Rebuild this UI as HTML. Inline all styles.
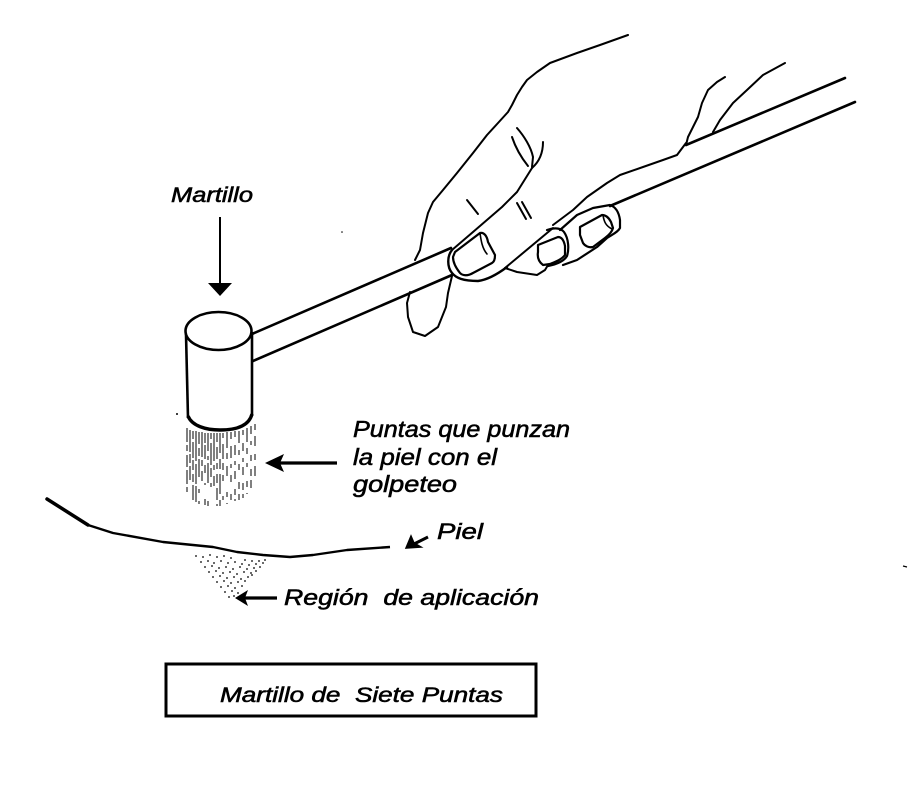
<!DOCTYPE html>
<html>
<head>
<meta charset="utf-8">
<style>
  html,body{margin:0;padding:0;background:#fff;}
  svg{display:block;}
  text{font-family:"Liberation Sans", Arial, sans-serif;font-style:italic;fill:#000;stroke:#000;stroke-width:0.55px;white-space:pre;}
</style>
</head>
<body>
<svg width="912" height="794" viewBox="0 0 912 794" xmlns="http://www.w3.org/2000/svg" xml:space="preserve">
  <rect width="912" height="794" fill="#fff"/>

  <!-- ===== Hand ===== -->
  <g fill="none" stroke="#000" stroke-width="2" stroke-linejoin="round" stroke-linecap="round">
    <path d="M628,35 L600,45 L577,53 L550,63 L537,72 L527,80 L522,87 L517,95 L512,105 L508,112 L498,123 L487,135 L473,153 L457,173 L443,190 L433,202 L428,213 L423,233 L420,250 L415,260"/>
    <path d="M452,276 L448,293 L446,307 L438,327 L425,336 L413,332 L408,317 L407,303 L410,292"/>
    <path d="M452,250 L473,232 L502,207 L517,192 L532,168"/>
    <path d="M517,128 C524,136 531,147 533,157 L532,167"/>
    <path d="M512,137 C515,146 520,156 528,166"/>
    <path d="M543,142 C543,152 540,161 532,168"/>
    <path d="M467,200 L478,214"/>
    <path d="M517,203 L526,219"/>
    <path d="M522,202 L531,218"/>
    <path d="M452,250 C447,256 447,267 452,273 C456,278 463,281 478,281 C486,280 495,276 507,267" stroke-width="2.4"/>
    <path d="M455,252 L480,233 C484,232 487,236 488,242 L495,255 C495,259 494,262 492,263 L473,273 C468,276 463,276 460,273 C456,268 453,262 453,257 Z" stroke-width="2.2"/>
    <path d="M480,233 C481,240 482,248 487,254" stroke-width="1.6"/>
    <path d="M505,268 L553,228"/>
    <path d="M505,268 L517,272 L537,275 L545,270 L548,265"/>
    <path d="M547,230 C553,228 560,227 564,232 C569,239 569,250 567,256 C564,261 558,264 548,266" stroke-width="2.2"/>
    <path d="M538,245 L558,237 C562,237 564,241 565,246 L565,255 C561,260 555,262 550,264 L543,265 C539,262 537,258 538,252 Z" stroke-width="2.2"/>
    <path d="M560,230 L577,215 L593,208 L610,205 C616,207 619,213 620,220 L620,228 C618,232 613,234 607,238 L597,247 L577,260 L563,265" stroke-width="2.2"/>
    <path d="M580,227 L602,215 C606,215 609,218 611,222 L613,228 C612,232 609,235 605,238 L593,247 C589,248 585,246 583,243 L580,235 Z" stroke-width="2.2"/>
    <path d="M603,215 C604,222 606,226 612,229" stroke-width="1.6"/>
    <path d="M553,225 L573,210 L587,197 L607,183 L620,175 L643,167 L663,160 L677,155 L683,147 L686,143"/>
    <path d="M686,145 L688,137 L693,127 L698,117 L702,103 L708,90 L717,82 L725,77"/>
    <path d="M713,132 L720,120 L733,103 L747,90 L763,75 L785,63"/>
  </g>

  <!-- ===== Handle ===== -->
  <g fill="none" stroke="#000" stroke-width="2.6" stroke-linecap="round">
    <line x1="252" y1="334" x2="451" y2="248"/>
    <line x1="253" y1="361" x2="452" y2="275"/>
    <line x1="686" y1="145" x2="845" y2="78"/>
    <line x1="610" y1="206" x2="855" y2="102"/>
  </g>

  <!-- ===== Hammer head ===== -->
  <g fill="none" stroke="#000" stroke-width="2.6">
    <rect x="186" y="332" width="66" height="86" fill="#fff" stroke="none"/>
    <path d="M186,334 L188,418" />
    <path d="M252,332 L252,416" />
    <path d="M188,416 C192,426 206,430 220,430 C236,430 249,426 252,414" stroke-width="3.4"/>
    <ellipse cx="218.5" cy="331" rx="33" ry="19" fill="#fff"/>
  </g>

  <!-- bristles -->
  <g stroke="#000" stroke-width="1" fill="none">
    <line x1="187" y1="428" x2="187" y2="492" stroke-dasharray="14 3 6 4 12 3"/>
    <line x1="190" y1="430" x2="190" y2="497" stroke-dasharray="22 2 9 3 14"/>
    <line x1="193" y1="431" x2="193" y2="500" stroke-dasharray="8 3 16 2 10 4"/>
    <line x1="196" y1="431" x2="196" y2="502" stroke-dasharray="30 3 20 2"/>
    <line x1="199" y1="432" x2="199" y2="504" stroke-dasharray="12 4 8 3 18"/>
    <line x1="202" y1="432" x2="202" y2="505" stroke-dasharray="25 3 6 5 10"/>
    <line x1="205" y1="433" x2="205" y2="506" stroke-dasharray="10 2 14 6 8"/>
    <line x1="208" y1="433" x2="208" y2="507" stroke-dasharray="18 5 4 3 20"/>
    <line x1="211" y1="433" x2="211" y2="507" stroke-dasharray="6 4 22 3 9"/>
    <line x1="214" y1="433" x2="214" y2="507" stroke-dasharray="28 4 5 6 10"/>
    <line x1="217" y1="433" x2="217" y2="506" stroke-dasharray="9 5 12 4 6 5"/>
    <line x1="220" y1="433" x2="220" y2="506" stroke-dasharray="20 6 10 5"/>
    <line x1="223" y1="433" x2="223" y2="505" stroke-dasharray="5 6 15 4 7"/>
    <line x1="227" y1="432" x2="227" y2="504" stroke-dasharray="16 5 6 7 10"/>
    <line x1="231" y1="432" x2="231" y2="502" stroke-dasharray="7 7 12 6 4"/>
    <line x1="235" y1="431" x2="235" y2="501" stroke-dasharray="6 8 10 6 4"/>
    <line x1="239" y1="431" x2="239" y2="500" stroke-dasharray="12 7 5 9 6"/>
    <line x1="243" y1="430" x2="243" y2="498" stroke-dasharray="5 8 8 7 4"/>
    <line x1="247" y1="428" x2="247" y2="494" stroke-dasharray="14 6 6 9 4"/>
    <line x1="251" y1="426" x2="251" y2="488" stroke-dasharray="8 7 4 10 6"/>
    <line x1="255" y1="424" x2="255" y2="480" stroke-dasharray="6 6 10 8"/>
  </g>

  <!-- ===== Arrows ===== -->
  <line x1="220" y1="217" x2="220" y2="288" stroke="#000" stroke-width="2"/>
  <polygon points="208,283 232,283 220,296" fill="#000"/>
  <line x1="278" y1="463" x2="337" y2="463" stroke="#000" stroke-width="3.2"/>
  <polygon points="265,463 284,454 280,463 284,472" fill="#000"/>
  <line x1="428" y1="537" x2="410" y2="546" stroke="#000" stroke-width="3"/>
  <polygon points="406,548 411,536 414,543 421,547" fill="#000" stroke="#000" stroke-width="1.5"/>
  <line x1="244" y1="598" x2="277" y2="598" stroke="#000" stroke-width="3.2"/>
  <polygon points="235,598 248,590 245,598 248,606" fill="#000"/>

  <!-- ===== Skin ===== -->
  <path d="M47,499 L88,525 L113,533 L163,542 L213,547 L237,552 L263,555 L290,557 L313,555 L347,550 L390,547" fill="none" stroke="#000" stroke-width="2.4" stroke-linejoin="round"/>
  <path d="M47,499 L88,525" stroke="#000" stroke-width="3.5" stroke-linecap="round"/>

  <!-- stipple -->
  <g fill="#000">
    <circle cx="196" cy="556" r="0.9"/><circle cx="203" cy="557" r="0.9"/><circle cx="210" cy="555" r="0.9"/><circle cx="217" cy="557" r="0.9"/><circle cx="224" cy="556" r="0.9"/><circle cx="231" cy="558" r="0.9"/><circle cx="245" cy="560" r="0.9"/><circle cx="252" cy="561" r="0.9"/><circle cx="259" cy="561" r="0.9"/><circle cx="265" cy="560" r="0.9"/>
    <circle cx="201" cy="562" r="0.9"/><circle cx="208" cy="561" r="0.9"/><circle cx="214" cy="563" r="0.9"/><circle cx="221" cy="561" r="0.9"/><circle cx="228" cy="563" r="0.9"/><circle cx="235" cy="562" r="0.9"/><circle cx="242" cy="564" r="0.9"/><circle cx="249" cy="565" r="0.9"/><circle cx="256" cy="564" r="0.9"/><circle cx="263" cy="563" r="0.9"/>
    <circle cx="205" cy="567" r="0.9"/><circle cx="212" cy="566" r="0.9"/><circle cx="219" cy="568" r="0.9"/><circle cx="226" cy="567" r="0.9"/><circle cx="233" cy="569" r="0.9"/><circle cx="240" cy="567" r="0.9"/><circle cx="247" cy="569" r="0.9"/><circle cx="254" cy="568" r="0.9"/><circle cx="260" cy="567" r="0.9"/>
    <circle cx="209" cy="572" r="0.9"/><circle cx="216" cy="571" r="0.9"/><circle cx="223" cy="573" r="0.9"/><circle cx="230" cy="572" r="0.9"/><circle cx="237" cy="574" r="0.9"/><circle cx="244" cy="572" r="0.9"/><circle cx="251" cy="573" r="0.9"/><circle cx="256" cy="571" r="0.9"/>
    <circle cx="213" cy="577" r="0.9"/><circle cx="220" cy="576" r="0.9"/><circle cx="227" cy="578" r="0.9"/><circle cx="234" cy="577" r="0.9"/><circle cx="241" cy="579" r="0.9"/><circle cx="248" cy="577" r="0.9"/><circle cx="252" cy="575" r="0.9"/>
    <circle cx="217" cy="582" r="0.9"/><circle cx="224" cy="581" r="0.9"/><circle cx="231" cy="583" r="0.9"/><circle cx="238" cy="582" r="0.9"/><circle cx="245" cy="581" r="0.9"/>
    <circle cx="221" cy="587" r="0.9"/><circle cx="228" cy="586" r="0.9"/><circle cx="235" cy="588" r="0.9"/><circle cx="242" cy="586" r="0.9"/>
    <circle cx="225" cy="592" r="0.9"/><circle cx="232" cy="591" r="0.9"/><circle cx="238" cy="593" r="0.9"/>
    <circle cx="229" cy="597" r="0.9"/><circle cx="234" cy="596" r="0.9"/>
  </g>

  <circle cx="177" cy="414" r="1" fill="#000"/>
  <circle cx="342" cy="232" r="0.8" fill="#000"/>
  <line x1="903" y1="566" x2="907" y2="567" stroke="#000" stroke-width="1.3"/>

  <!-- ===== Labels ===== -->
  <text x="171" y="202" font-size="21" textLength="82" lengthAdjust="spacingAndGlyphs">Martillo</text>
  <text x="353" y="437" font-size="23" textLength="217" lengthAdjust="spacingAndGlyphs">Puntas que punzan</text>
  <text x="353" y="465" font-size="23" textLength="144" lengthAdjust="spacingAndGlyphs">la piel con el</text>
  <text x="353" y="492" font-size="23" textLength="104" lengthAdjust="spacingAndGlyphs">golpeteo</text>
  <text x="437" y="539" font-size="22" textLength="46" lengthAdjust="spacingAndGlyphs">Piel</text>
  <text x="284" y="605" font-size="22" textLength="255" lengthAdjust="spacingAndGlyphs">Región&#160; de aplicación</text>

  <!-- ===== Title box ===== -->
  <rect x="166" y="664" width="370" height="52" fill="none" stroke="#000" stroke-width="3"/>
  <text x="220" y="702" font-size="21" textLength="283" lengthAdjust="spacingAndGlyphs">Martillo de&#160; Siete Puntas</text>
</svg>
</body>
</html>
